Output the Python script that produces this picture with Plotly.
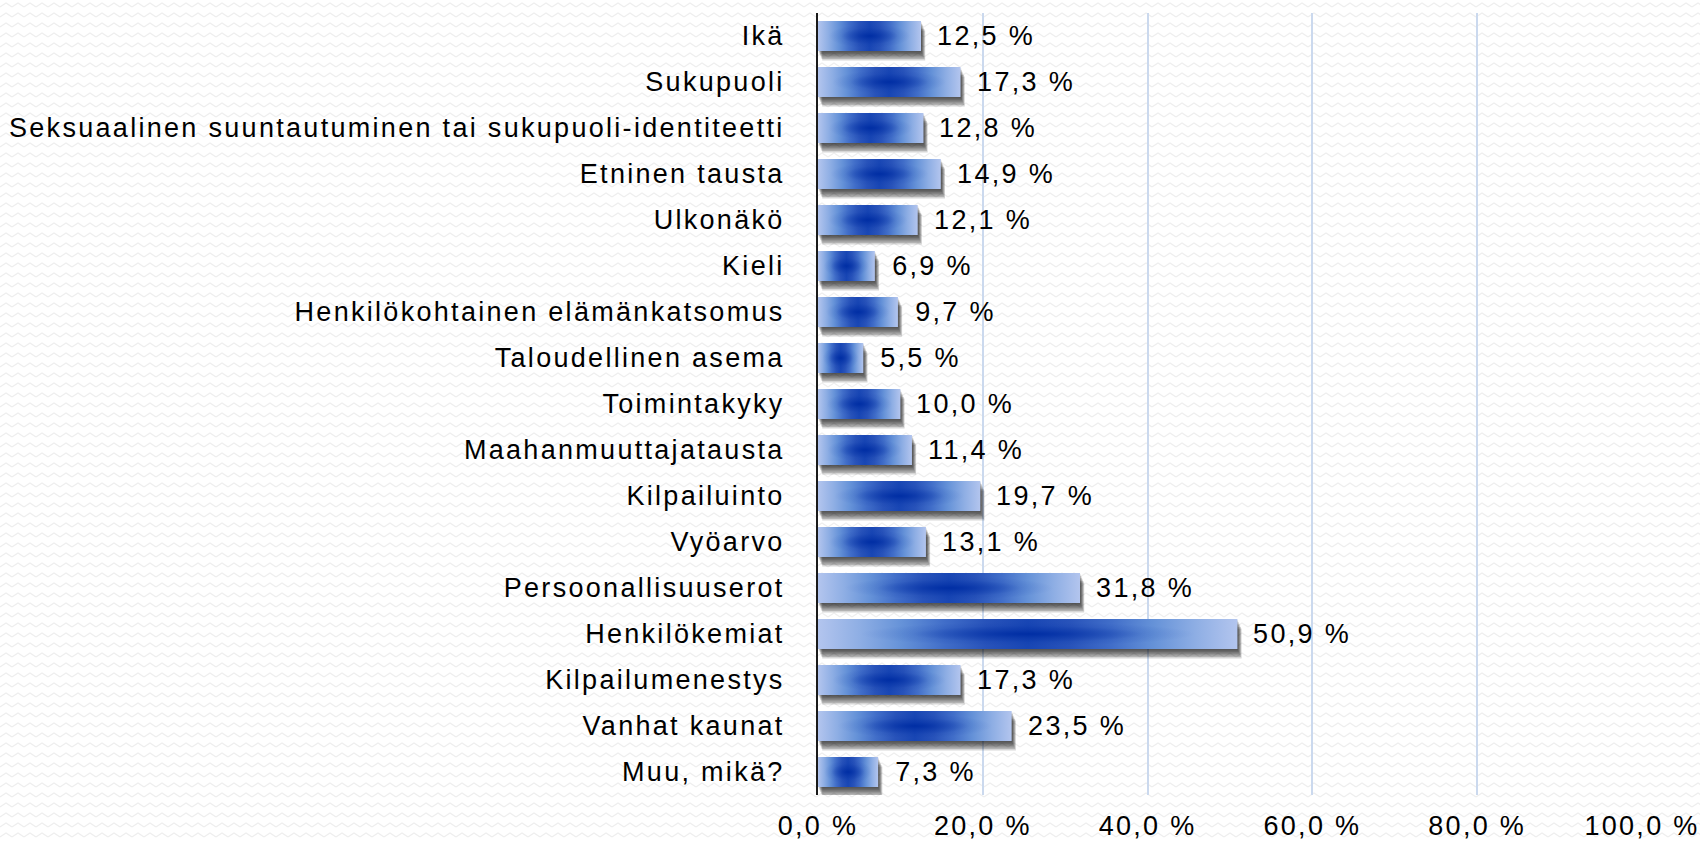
import base64
import plotly.graph_objects as go

categories = [
    "Ikä", "Sukupuoli",
    "Seksuaalinen suuntautuminen tai sukupuoli-identiteetti",
    "Etninen tausta", "Ulkonäkö", "Kieli",
    "Henkilökohtainen elämänkatsomus", "Taloudellinen asema",
    "Toimintakyky", "Maahanmuuttajatausta", "Kilpailuinto", "Vyöarvo",
    "Persoonallisuuserot", "Henkilökemiat", "Kilpailumenestys",
    "Vanhat kaunat", "Muu, mikä?",
]
values = [12.5, 17.3, 12.8, 14.9, 12.1, 6.9, 9.7, 5.5, 10.0, 11.4,
          19.7, 13.1, 31.8, 50.9, 17.3, 23.5, 7.3]
x_tick_values = [0, 20, 40, 60, 80, 100]
x_tick_labels = ["0,0 %", "20,0 %", "40,0 %", "60,0 %", "80,0 %", "100,0 %"]

W, H = 1700, 841
ML, MR, MT, MB = 818, 58, 13, 46
PW, PH = W - ML - MR, H - MT - MB
n = len(categories)
XPX = 100.0 / PW          # data units per pixel (x)
YPX = n / PH              # data units per pixel (y)
HALF = 0.326              # half bar thickness in category units

FONT = "Liberation Sans, Arial, sans-serif"
FS = 27

BASE_SCALE = [
    [0.00, "#b3c5ee"], [0.10, "#8eaee4"], [0.20, "#6592d8"],
    [0.30, "#416ec9"], [0.40, "#2853ba"], [0.50, "#1846b4"],
    [0.60, "#2853ba"], [0.70, "#416ec9"],
    [0.80, "#6592d8"], [0.90, "#8eaee4"], [1.00, "#b3c5ee"],
]
# radial overlay: 0 = centre of the bar
SPOT_SCALE = [
    [0.00, "rgba(0,46,164,1)"], [0.25, "rgba(0,46,164,0.55)"],
    [0.55, "rgba(0,46,164,0.12)"], [0.8, "rgba(0,46,164,0)"],
    [1.00, "rgba(0,46,164,0)"],
]


def fmt(v):
    return f"{v:.1f}".replace(".", ",") + " %"


fig = go.Figure()

# drop shadows (layered for a soft look)
for k in range(6, 0, -1):
    xs, ys = [], []
    ox, oy = k * 0.7 * XPX, k * 1.6 * YPX
    for i, v in enumerate(values):
        x0, x1 = 0 + ox, v + ox
        y0, y1 = i - HALF + oy, i + HALF + oy
        xs += [x0, x1, x1, x0, x0, None]
        ys += [y0, y0, y1, y1, y0, None]
    fig.add_trace(go.Scatter(
        x=xs, y=ys, mode="lines", fill="toself",
        line=dict(width=0), fillcolor="rgba(0,0,0,0.16)",
        hoverinfo="skip", showlegend=False,
    ))

# gradient bars: horizontal base + soft dark centre spot
for i, (c, v) in enumerate(zip(categories, values)):
    bx = [0, v, v, 0, 0]
    by = [i - HALF, i - HALF, i + HALF, i + HALF, i - HALF]
    fig.add_trace(go.Scatter(
        x=bx, y=by, mode="lines", fill="toself", line=dict(width=0),
        fillgradient=dict(type="horizontal", colorscale=BASE_SCALE),
        name=c, hovertemplate=f"{c}: {fmt(v)}<extra></extra>",
        showlegend=False,
    ))
    fig.add_trace(go.Scatter(
        x=bx, y=by, mode="lines", fill="toself", line=dict(width=0),
        fillgradient=dict(type="radial", colorscale=SPOT_SCALE),
        hoverinfo="skip", showlegend=False,
    ))

annotations = []
for i, v in enumerate(values):
    annotations.append(dict(
        x=v, y=i, text=fmt(v), showarrow=False, xanchor="left",
        yanchor="middle", xshift=21, font=dict(family=FONT, size=FS, color="#000"),
    ))

svg = (
    f"<svg xmlns='http://www.w3.org/2000/svg' width='{W}' height='{H}' viewBox='0 0 {W} {H}' preserveAspectRatio='none'>"
    "<defs><pattern id='z' width='12' height='10' patternUnits='userSpaceOnUse'>"
    "<path d='M0 7 L6 3 L12 7' fill='none' stroke='#eeeeee' stroke-width='1.2'/>"
    "</pattern></defs>"
    f"<rect width='{W}' height='{H}' fill='#ffffff'/>"
    f"<rect width='{W}' height='{H}' fill='url(#z)'/></svg>"
)
bg = "data:image/svg+xml;base64," + base64.b64encode(svg.encode()).decode()

fig.update_layout(
    width=W, height=H, autosize=False,
    margin=dict(l=ML, r=MR, t=MT, b=MB, pad=0, autoexpand=False),
    paper_bgcolor="#ffffff", plot_bgcolor="rgba(0,0,0,0)",
    font=dict(family=FONT, size=FS, color="#000"),
    showlegend=False,
    annotations=annotations,
    images=[dict(
        source=bg, xref="paper", yref="paper",
        x=-ML / PW, y=1 + MT / PH, sizex=W / PW, sizey=H / PH,
        xanchor="left", yanchor="top", sizing="stretch", layer="below",
    )],
    xaxis=dict(
        range=[0, 100], tickvals=x_tick_values, ticktext=x_tick_labels,
        showgrid=True, gridcolor="#cbd9ee", gridwidth=1.5,
        zeroline=False, showline=False, ticks="", automargin=False,
        ticklabelstandoff=12, fixedrange=True,
        tickfont=dict(family=FONT, size=FS, color="#000"),
    ),
    yaxis=dict(
        range=[n - 0.5, -0.5], tickvals=list(range(n)), ticktext=categories,
        showgrid=False, zeroline=False, showline=True, automargin=False,
        linecolor="#1a1a1a", linewidth=2, ticks="",
        ticklabelstandoff=26, fixedrange=True,
        tickfont=dict(family=FONT, size=FS, color="#000"),
    ),
)

post = """
var gd = document.getElementById('{plot_id}');
function ls(){ gd.querySelectorAll('text').forEach(function(t){ t.style.letterSpacing='2.3px'; }); }
ls();
if (gd.on) { gd.on('plotly_afterplot', ls); }
"""

fig.write_html("out.html", post_script=post, config={"displayModeBar": False})
